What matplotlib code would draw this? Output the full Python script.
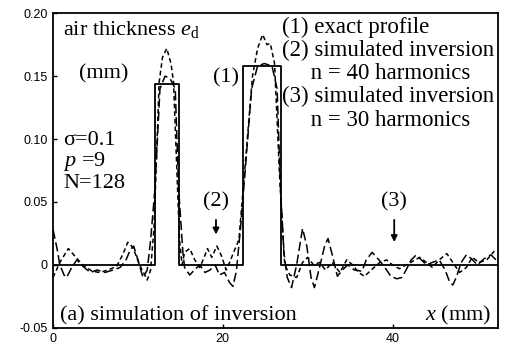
import matplotlib.pyplot as plt

plt.rcParams['mathtext.fontset'] = 'custom'
plt.rcParams['mathtext.rm'] = 'Liberation Serif'
plt.rcParams['mathtext.it'] = 'Liberation Serif:italic'

# exact profile (1)
x_exact = [0, 12.0, 12.0, 14.9, 14.9, 22.4, 22.4, 26.9, 26.9, 52.4]
y_exact = [0, 0, 0.144, 0.144, 0, 0, 0.158, 0.158, 0, 0]

# simulated inversion (2), n = 40 harmonics
x_n40 = [0, 0.8, 1.8, 2.7, 3.5, 4.6, 5.5, 6.5, 7.5, 8.2, 8.8, 9.4, 10.2, 11.1,
         11.5, 11.9, 12.5, 12.9, 13.4, 13.9, 14.2, 14.9, 15.2, 15.5, 16.1,
         16.7, 17.3, 17.8, 18.2, 18.7, 19.3, 19.8, 20.4, 20.8, 21.4, 21.9,
         22.4, 23.5, 24.1, 24.7, 25.2, 25.6, 26.1, 26.7, 27.3, 27.9, 28.7,
         29.4, 30.0, 30.7, 31.4, 32.1, 32.9, 33.8, 34.6, 35.3, 36.0, 36.7,
         37.5, 38.5, 39.3, 40.0, 40.8, 41.6, 42.4, 43.2, 44.0, 44.7, 45.5,
         46.4, 47.1, 47.9, 48.7, 49.4, 50.2, 51.1, 52.0]
y_n40 = [-0.010, 0.002, 0.013, 0.006, 0.000, -0.005, -0.006, -0.004, -0.001,
         0.008, 0.018, 0.014, 0.000, -0.012, -0.004, 0.030, 0.145, 0.165,
         0.172, 0.160, 0.145, 0.020, 0.000, 0.010, 0.013, 0.004, -0.002,
         0.006, 0.013, 0.006, 0.015, 0.008, -0.004, 0.002, 0.012, 0.020,
         0.060, 0.150, 0.172, 0.183, 0.175, 0.176, 0.160, 0.070, 0.000,
         -0.008, -0.010, 0.002, 0.006, 0.000, 0.002, -0.004, 0.002, -0.006,
         0.004, 0.000, -0.006, -0.009, -0.004, 0.002, 0.004, 0.000, -0.003,
         0.000, 0.003, 0.006, 0.002, -0.002, 0.004, 0.009, 0.002, -0.006,
         -0.002, 0.006, 0.002, 0.004, 0.011]

# simulated inversion (3), n = 30 harmonics
x_n30 = [0, 0.5, 0.8, 1.3, 1.6, 2.2, 2.8, 3.5, 4.4, 5.2, 6.1, 7.1, 7.9, 8.6,
         9.1, 9.5, 10.0, 10.6, 11.1, 11.5, 12.0, 12.6, 13.2, 13.8, 14.4,
         14.8, 15.3, 15.5, 16.1, 16.8, 17.3, 17.9, 18.5, 19.1, 19.6, 20.2,
         20.8, 21.2, 21.6, 22.1, 22.7, 23.4, 24.1, 24.9, 25.8, 26.4, 26.8,
         27.2, 27.6, 28.1, 28.7, 29.4, 29.9, 30.4, 30.8, 31.4, 32.0, 32.4,
         32.9, 33.5, 34.1, 34.7, 35.5, 36.4, 36.9, 37.6, 38.4, 39.1, 39.8,
         40.5, 41.1, 41.6, 42.2, 42.8, 43.4, 44.0, 44.7, 45.5, 46.2, 46.7,
         47.1, 47.5, 48.1, 48.7, 49.3, 50.0, 50.8, 51.6, 52.2]
y_n30 = [0.028, 0.012, 0.000, -0.008, -0.010, -0.002, 0.004, -0.001, -0.006,
         -0.004, -0.006, -0.004, -0.002, 0.004, 0.012, 0.015, 0.004, -0.010,
         -0.004, 0.020, 0.060, 0.140, 0.150, 0.148, 0.140, 0.060, 0.010,
         -0.002, -0.008, -0.003, 0.000, -0.006, -0.004, 0.000, -0.008,
         -0.006, -0.014, -0.017, -0.005, 0.030, 0.080, 0.140, 0.158, 0.160,
         0.158, 0.140, 0.060, 0.010, -0.010, -0.018, 0.000, 0.029, 0.015,
         -0.010, -0.018, -0.002, 0.015, 0.021, 0.008, -0.009, -0.004, 0.000,
         -0.004, -0.005, 0.004, 0.010, 0.004, -0.002, -0.009, -0.011, -0.010,
         -0.004, 0.004, 0.008, 0.004, 0.000, 0.002, 0.004, -0.004, -0.013,
         -0.016, -0.010, 0.002, 0.008, 0.005, 0.000, 0.005, 0.008, 0.004]

yticks = [-0.05, 0, 0.05, 0.10, 0.15, 0.20]
ytick_labels = ['-0.05', '0', '0.05', '0.10', '0.15', '0.20']
xticks = [0, 20, 40]

legend_lines = ['(1) exact profile', '(2) simulated inversion', '     n = 40 harmonics',
                '(3) simulated inversion', '     n = 30 harmonics']

serif = ['Liberation Serif', 'DejaVu Serif']
sans = ['Liberation Sans', 'DejaVu Sans']

fig = plt.figure(figsize=(5.10, 3.56), dpi=100)
ax = fig.add_axes([0.104, 0.079, 0.872, 0.884])

ax.plot(x_exact, y_exact, color='black', lw=1.3)
ax.plot(x_n40, y_n40, color='black', lw=1.1, linestyle=(0, (3, 2)))
ax.plot(x_n30, y_n30, color='black', lw=1.1, linestyle=(0, (6, 2.5)))

ax.set_xlim(0, 52.4)
ax.set_ylim(-0.05, 0.20)
ax.set_yticks(yticks)
ax.set_yticklabels(ytick_labels, family=sans, fontsize=9)
ax.set_xticks(xticks)
ax.set_xticklabels([str(t) for t in xticks], family=sans, fontsize=9)
ax.tick_params(direction='in', length=3, width=1, pad=4)
for s in ax.spines.values():
    s.set_linewidth(1.3)

fs = 16
ax.text(1.2, 0.187, 'air thickness $e_{\\rm d}$', family=serif, fontsize=fs, va='center')
ax.text(3.0, 0.152, '(mm)', family=serif, fontsize=fs, va='center')
ax.text(1.2, 0.099, '\u03c3=0.1', family=serif, fontsize=fs, va='center')
ax.text(1.2, 0.082, '$p$ =9', family=serif, fontsize=fs, va='center')
ax.text(1.2, 0.065, 'N=128', family=serif, fontsize=fs, va='center')
ax.text(18.8, 0.149, '(1)', family=serif, fontsize=fs, va='center')
ax.text(19.2, 0.050, '(2)', family=serif, fontsize=fs, va='center', ha='center')
ax.text(40.2, 0.050, '(3)', family=serif, fontsize=fs, va='center', ha='center')
ax.annotate('', xy=(19.2, 0.022), xytext=(19.2, 0.038),
            arrowprops=dict(arrowstyle='-|>', color='black', lw=1.3, mutation_scale=9))
ax.annotate('', xy=(40.2, 0.016), xytext=(40.2, 0.038),
            arrowprops=dict(arrowstyle='-|>', color='black', lw=1.3, mutation_scale=9))

for i, line in enumerate(legend_lines):
    ax.text(27.0, 0.189 - i * 0.0185, line, family=serif, fontsize=16.5, va='center')

ax.text(0.8, -0.040, '(a) simulation of inversion', family=serif, fontsize=fs, va='center')
ax.text(43.8, -0.040, '$x$ (mm)', family=serif, fontsize=fs, va='center')

fig.savefig('out.png', dpi=100)
